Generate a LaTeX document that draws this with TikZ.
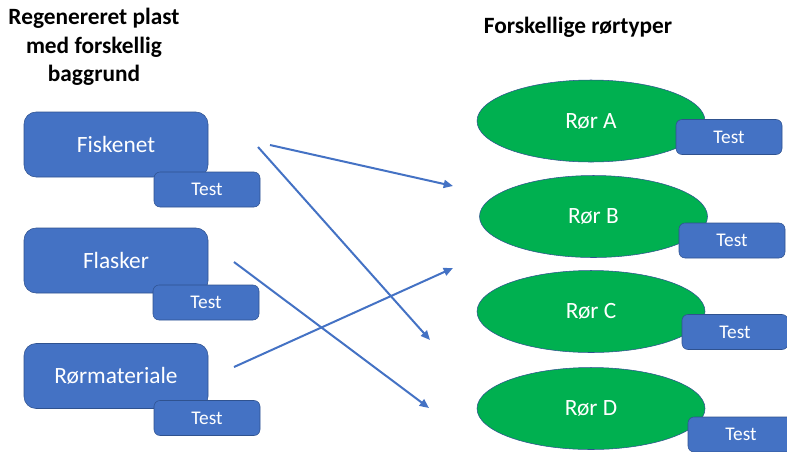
\documentclass[tikz,border=0pt]{standalone}
\usepackage{fontspec}
\setmainfont{Carlito}
\usetikzlibrary{arrows.meta,shapes.geometric}
\usepackage{xcolor}
\definecolor{cbox}  {HTML}{4472C4}
\definecolor{cedge} {HTML}{2F528F}
\definecolor{cgreen}{HTML}{00B050}

\begin{document}
\begin{tikzpicture}[
  x=0.75pt, y=-0.75pt,
  arr/.style   = {-{Triangle[length=7pt,width=6pt]}, line width=1.5pt, color=cbox},
  srcbox/.style = {rectangle, rounded corners=9pt, draw=cedge, fill=cbox, thin,
                   minimum width=138pt, minimum height=48.75pt, inner sep=0pt,
                   text=white, font=\fontsize{17.5}{20}\selectfont},
  testbox/.style = {rectangle, rounded corners=4.5pt, draw=cedge, fill=cbox, thin,
                   minimum width=79.5pt, minimum height=26.25pt, inner sep=0pt,
                   text=white, font=\fontsize{14.5}{16}\selectfont},
  tube/.style  = {ellipse, draw=cedge, fill=cgreen, thin,
                  minimum width=171pt, minimum height=61.5pt, inner sep=0pt,
                  text=white, font=\fontsize{17.5}{20}\selectfont},
  head/.style  = {font=\fontsize{17.5}{21.5}\selectfont\bfseries, align=center}
]
\useasboundingbox (0,0) rectangle (787,451);
\clip (0,0) rectangle (787,451);

%% ── Headings ──────────────────────────────────────────────────────────────
\node[head] (hleft)  at (94, 47)  {Regenereret plast\\med forskellig\\baggrund};
\node[head] (hright) at (578, 27) {Forskellige rørtyper};

%% ── Plastic sources (left) ────────────────────────────────────────────────
\node[srcbox]  (fisk)   at (116, 144.5) {Fiskenet};
\node[testbox] (tfisk)  at (207, 189.5) {Test};
\node[srcbox]  (flask)  at (116, 260.5) {Flasker};
\node[testbox] (tflask) at (206, 302.5) {Test};
\node[srcbox]  (rmat)   at (116, 376)   {Rørmateriale};
\node[testbox] (trmat)  at (207, 418)   {Test};

%% ── Tube types (right) ────────────────────────────────────────────────────
\node[tube]    (ra)  at (591, 121)   {Rør A};
\node[testbox] (tra) at (729, 137)   {Test};
\node[tube]    (rb)  at (593.5, 216.5) {Rør B};
\node[testbox] (trb) at (732, 240.5) {Test};
\node[tube]    (rc)  at (591, 311.5) {Rør C};
\node[testbox] (trc) at (735, 332)   {Test};
\node[tube]    (rd)  at (591, 408.5) {Rør D};
\node[testbox] (trd) at (741, 434.5) {Test};

%% ── Arrow ends (free, between the columns) ────────────────────────────────
\coordinate (fisk-a)  at (270, 145);
\coordinate (fisk-b)  at (258, 147);
\coordinate (flask-a) at (234, 262);
\coordinate (rmat-a)  at (234, 367);
\coordinate (rb-in)   at (453, 186);
\coordinate (rb-low)  at (453, 268);
\coordinate (rc-in)   at (430, 340);
\coordinate (rd-in)   at (429, 408);

%% ── Arrows ────────────────────────────────────────────────────────────────
% Fiskenet → Rør B
\draw[arr] (fisk-a) -- (rb-in);
% Fiskenet → Rør C
\draw[arr] (fisk-b) -- (rc-in);
% Flasker → Rør D
\draw[arr] (flask-a) -- (rd-in);
% Rørmateriale → Rør B/C
\draw[arr] (rmat-a) -- (rb-low);

\end{tikzpicture}
\end{document}
